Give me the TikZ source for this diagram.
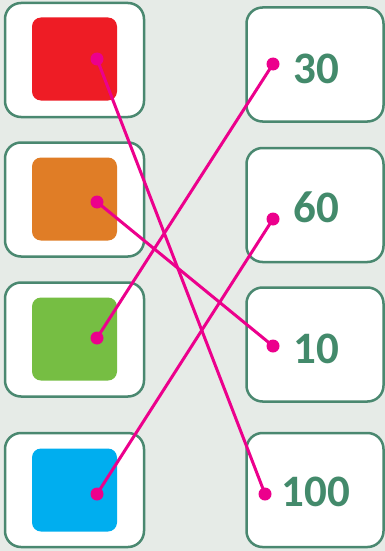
\documentclass[tikz,border=0pt]{standalone}
\usepackage{fontspec}
\setmainfont{Carlito}
\definecolor{bg}{HTML}{E6EBE7}
\definecolor{frame}{HTML}{4A8870}
\definecolor{numc}{HTML}{438A6B}
\definecolor{cred}{HTML}{EE1C25}
\definecolor{corange}{HTML}{E07D26}
\definecolor{cgreen}{HTML}{76BE43}
\definecolor{cblue}{HTML}{00AEEF}
\definecolor{pinkc}{HTML}{EC008C}
\tikzset{
  card/.style={draw=frame, line width=2.5pt, fill=white, rounded corners=16pt, minimum height=114pt, inner sep=0pt},
  leftcard/.style={card, minimum width=139pt},
  rightcard/.style={card, minimum width=137pt},
  swatch/.style={rounded corners=9pt, minimum width=85pt, minimum height=83pt, inner sep=0pt},
  num/.style={text=numc, font=\fontsize{45}{45}\selectfont\bfseries, inner sep=0pt},
  link/.style={draw=pinkc, line width=3pt},
  dotc/.style={fill=pinkc}
}
\begin{document}
\begin{tikzpicture}[x=1pt,y=-1pt]
\fill[bg] (0,0) rectangle (385,551);
\useasboundingbox (0,0) rectangle (385,551);
% left cards
\node[leftcard] (L1) at (74.5,60) {};
\node[leftcard] (L2) at (74.5,199.5) {};
\node[leftcard] (L3) at (74.5,339.5) {};
\node[leftcard] (L4) at (74.5,490) {};
\node[swatch, fill=cred] (S1) at (74.5,59) {};
\node[swatch, fill=corange] (S2) at (74.5,199) {};
\node[swatch, fill=cgreen] (S3) at (74.5,339) {};
\node[swatch, fill=cblue] (S4) at (74.5,490) {};
% right cards
\node[rightcard] (R1) at (315,64.5) {};
\node[rightcard] (R2) at (315,205) {};
\node[rightcard] (R3) at (315,344.5) {};
\node[rightcard] (R4) at (315,490) {};
\node[num] (N1) at (316,69) {30};
\node[num] (N2) at (316,207) {60};
\node[num] (N3) at (316,349) {10};
\node[num] (N4) at (316,492) {100};
% dots
\coordinate (a1) at (97,59);
\coordinate (a2) at (97,202);
\coordinate (a3) at (97,338);
\coordinate (a4) at (97,494);
\coordinate (b1) at (273,64);
\coordinate (b2) at (273,219);
\coordinate (b3) at (273,346);
\coordinate (b4) at (265,494);
\draw[link] (a1) -- (b4);
\draw[link] (a2) -- (b3);
\draw[link] (a3) -- (b1);
\draw[link] (a4) -- (b2);
\foreach \p in {a1,a2,a3,a4,b1,b2,b3,b4} \fill[dotc] (\p) circle (6.5pt);
\end{tikzpicture}
\end{document}
